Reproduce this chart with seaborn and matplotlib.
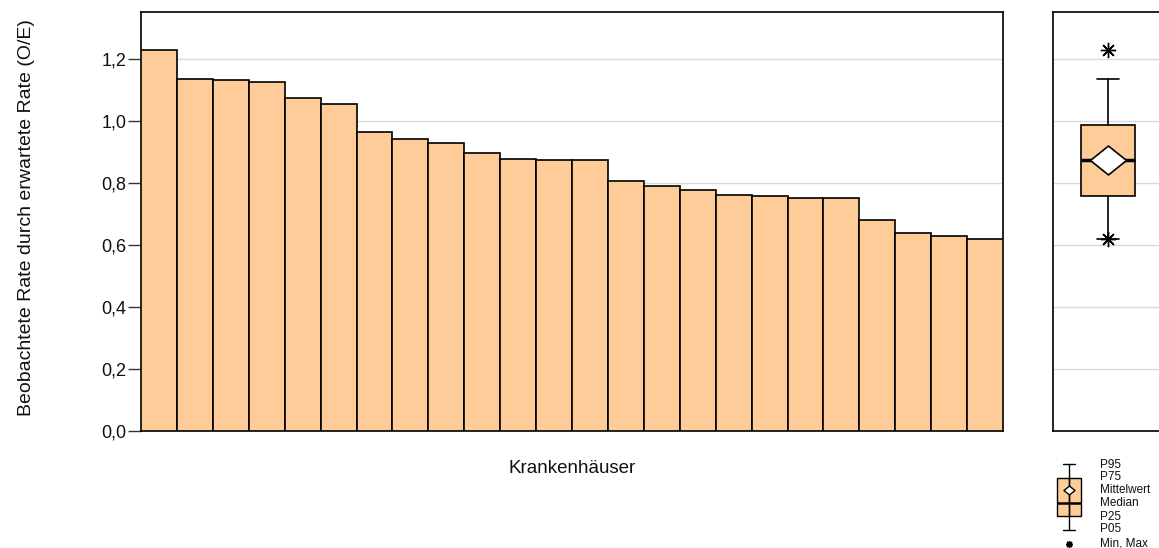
import matplotlib
matplotlib.use("Agg")
import matplotlib.pyplot as plt
import seaborn as sns
import pandas as pd
import numpy as np
from matplotlib.path import Path

# ---- data ----
hospitals = [f"KH{i+1}" for i in range(24)]
oe_values = [1.229, 1.136, 1.131, 1.125, 1.074, 1.055, 0.965, 0.943, 0.929, 0.896,
             0.877, 0.875, 0.873, 0.806, 0.791, 0.778, 0.763, 0.759, 0.753, 0.751,
             0.681, 0.639, 0.628, 0.618]
# summary statistics of the box (P05, P25, median, P75, P95, mean, min, max)
box_p05 = 0.620
box_p25 = 0.758
box_median = 0.874
box_p75 = 0.988
box_p95 = 1.137
box_mean = 0.875
box_min = 0.618
box_max = 1.229
legend_labels = ["P95", "P75", "Mittelwert", "Median", "P25", "P05", "Min, Max"]
y_ticks = [0.0, 0.2, 0.4, 0.6, 0.8, 1.0, 1.2]
y_ticklabels = ["0,0", "0,2", "0,4", "0,6", "0,8", "1,0", "1,2"]

sns.set_style("white")
plt.rcParams['font.family'] = ['Liberation Sans', 'DejaVu Sans']
plt.rcParams['text.color'] = '#111111'
plt.rcParams['axes.labelcolor'] = '#111111'
plt.rcParams['ytick.color'] = '#111111'

W, H = 1159, 548
fig = plt.figure(figsize=(W / 100, H / 100), dpi=100)

FILL = "#FECC99"
GRID = "#d9d9d9"

def fr(x0, y0, x1, y1):
    return [x0 / W, 1 - y1 / H, (x1 - x0) / W, (y1 - y0) / H]

# ---- main bar chart ----
ax = fig.add_axes(fr(141, 12, 1003, 431))
df = pd.DataFrame({"KH": hospitals, "OE": oe_values})
sns.barplot(data=df, x="KH", y="OE", ax=ax, color=FILL, saturation=1,
            width=1.0, edgecolor="black", linewidth=1.2, zorder=3)
ax.set_ylim(0, 1.352)
ax.set_xlim(-0.5, len(hospitals) - 0.5)
ax.set_yticks(y_ticks)
ax.set_yticklabels(y_ticklabels, fontsize=13)
ax.set_xticks([])
for y in y_ticks[1:]:
    ax.axhline(y, color=GRID, lw=1, zorder=1)
ax.tick_params(axis="y", direction="out", length=9.5, width=1, color="#333333", pad=1, left=True)
ax.set_xlabel("Krankenhäuser", fontsize=13.5)
ax.xaxis.set_label_coords(0.5, -0.07)
ax.set_ylabel("Beobachtete Rate durch erwartete Rate (O/E)", fontsize=14)
ax.yaxis.set_label_coords(-0.123, 0.51)
for s in ax.spines.values():
    s.set_color("black")
    s.set_linewidth(1.2)

# ---- box panel ----
diamond = Path([(-1, 0), (0, 0.8), (1, 0), (0, -0.8), (-1, 0)],
               [Path.MOVETO, Path.LINETO, Path.LINETO, Path.LINETO, Path.CLOSEPOLY])
asterisk = (8, 2, 0)

bx = fig.add_axes(fr(1053, 12, 1163, 431))
bx.set_xlim(0, 2)
bx.set_ylim(0, 1.352)
for y in y_ticks[1:]:
    bx.axhline(y, color=GRID, lw=1, zorder=0)
stats = [dict(med=box_median, q1=box_p25, q3=box_p75, whislo=box_p05, whishi=box_p95,
              mean=box_mean, fliers=[], label="")]
bx.bxp(stats, positions=[1.0], widths=[1.0], patch_artist=True, showmeans=True,
       showfliers=False, capwidths=[0.4],
       boxprops=dict(facecolor=FILL, edgecolor="black", linewidth=1.2),
       medianprops=dict(color="black", linewidth=2.5),
       whiskerprops=dict(color="black", linewidth=1.2),
       capprops=dict(color="black", linewidth=1.2),
       meanprops=dict(marker=diamond, markerfacecolor="white", markeredgecolor="black",
                      markersize=26, markeredgewidth=1.2))
bx.plot([1.0, 1.0], [box_min, box_max], linestyle="none", marker=asterisk,
        markersize=11, color="black", markeredgewidth=1.0, zorder=5)
bx.set_xticks([])
bx.set_yticks([])
for s in bx.spines.values():
    s.set_color("black")
    s.set_linewidth(1.2)

# ---- legend glyph ----
lx = fig.add_axes(fr(1050, 453, 1159, 548))
lx.set_xlim(1050, 1159)
lx.set_ylim(548, 453)
lx.axis("off")
lstats = [dict(med=503, q1=478, q3=516, whislo=530, whishi=464, mean=490, fliers=[], label="")]
lx.bxp(lstats, positions=[1069], widths=[24], patch_artist=True, showmeans=True,
       showfliers=False, capwidths=[12],
       boxprops=dict(facecolor=FILL, edgecolor="black", linewidth=1),
       medianprops=dict(color="black", linewidth=1.8),
       whiskerprops=dict(color="black", linewidth=1),
       capprops=dict(color="black", linewidth=1),
       meanprops=dict(marker=diamond, markerfacecolor="white", markeredgecolor="black",
                      markersize=8, markeredgewidth=1))
lx.plot([1069], [544], linestyle="none", marker=asterisk, markersize=5,
        color="black", markeredgewidth=1)
ly = [465, 477, 490, 503, 517, 529, 543]
for t, y in zip(legend_labels, ly):
    lx.text(1100, y, t, fontsize=8.5, va="center", ha="left")
lx.set_xlim(1050, 1159)
lx.set_ylim(548, 453)

fig.savefig("out.png", dpi=100)
